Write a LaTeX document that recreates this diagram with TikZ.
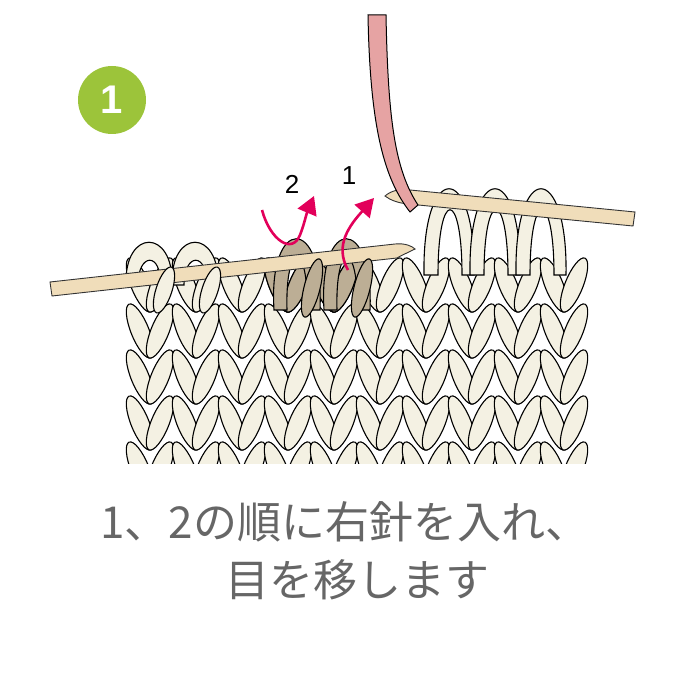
\documentclass[tikz,border=0pt]{standalone}
\usepackage{fontspec}
\usetikzlibrary{arrows.meta}
\newfontfamily\cjk{Noto Sans CJK JP}
\setmainfont{Liberation Sans}
\begin{document}
\begin{tikzpicture}[x=1pt,y=-1pt,
  yarn/.style={fill=cream,draw=black,line width=1.1pt},
  tan/.style={fill=tanc,draw=black,line width=1.1pt},
  needle/.style={fill=needlec,draw=black!80,line width=0.9pt},
  arr/.style={draw=mag,line width=2.6pt,-{Triangle[length=18pt,width=20pt]}}]
\definecolor{cream}{HTML}{F4F1E3}
\definecolor{tanc}{HTML}{BCAE95}
\definecolor{needlec}{HTML}{F0DDBA}
\definecolor{mag}{HTML}{E2005A}
\definecolor{grn}{HTML}{9CC43A}
\definecolor{pinky}{HTML}{E6A3A3}
\useasboundingbox (0,0) rectangle (700,700);
% badge
\node[circle,fill=grn,minimum size=68pt,inner sep=0pt,text=white,font=\bfseries\fontsize{40}{40}\selectfont] (badge) at (112,100) {1};
% fabric
\begin{scope}
\clip (100,240) rectangle (600,463);
\foreach \r in {0,...,4}{
 \foreach \i in {0,...,9}{
  \pgfmathsetmacro\cx{150+46*\i}
  \pgfmathsetmacro\cy{285+46*\r}
  \draw[yarn] (\cx-10,\cy) ellipse [x radius=9, y radius=29, rotate=22];
  \draw[yarn] (\cx+10,\cy) ellipse [x radius=9, y radius=29, rotate=-22];
 }}
\foreach \i in {3,4}{
  \pgfmathsetmacro\cx{150+46*\i}
  \draw[tan] (\cx-10,285) ellipse [x radius=9, y radius=29, rotate=22];
  \draw[tan] (\cx+10,285) ellipse [x radius=9, y radius=29, rotate=-22];
}
\end{scope}
% left needle loops
\foreach \x in {150,196}{
  \draw[yarn] (\x-24,285) .. controls (\x-26,228) and (\x+24,228) .. (\x+22,285) -- (\x+10,285) .. controls (\x+12,252) and (\x-12,252) .. (\x-12,285) -- cycle;
}
\foreach \x in {296,346}{
  \draw[tan] (\x-22,310) .. controls (\x-28,215) and (\x+28,215) .. (\x+24,310) -- (\x+11,310) .. controls (\x+13,240) and (\x-11,240) .. (\x-9,310) -- cycle;
}
% right needle loops
\foreach \x in {450,496,542}{
  \draw[yarn] (\x-26,275) .. controls (\x-28,160) and (\x+26,160) .. (\x+24,275) -- (\x+12,275) .. controls (\x+12,188) and (\x-12,188) .. (\x-12,275) -- cycle;
}
% left needle
\draw[needle] (50,282) -- (395,244) .. controls (405,243) and (412,246) .. (415,249) .. controls (405,254) and (400,256) .. (397,258) -- (52,296) -- cycle;
% right needle
\draw[needle] (385,196) .. controls (392,190) and (400,189) .. (410,190) -- (635,212) -- (633,226) -- (408,204) .. controls (398,203) and (390,200) .. cycle;
% front legs of loops on left needle
\foreach \x in {150,196}{
  \draw[yarn] (\x+14,290) ellipse [x radius=8, y radius=24, rotate=-18];
}
\foreach \x in {296,346}{
  \draw[tan] (\x+16,288) ellipse [x radius=8, y radius=30, rotate=-14];
}
% pink yarn
\draw[draw=black,line width=1pt,fill=pinky] (368,15) -- (386,15) .. controls (388,120) and (395,170) .. (418,205) -- (410,212) .. controls (385,180) and (370,130) .. (368,15) -- cycle;
% arrows
\draw[arr] (348,270) .. controls (334,245) and (350,225) .. (374,198);
\draw[arr] (262,210) .. controls (270,240) and (292,255) .. (300,235) .. controls (304,225) and (306,215) .. (314,196);
% labels
\node[font=\fontsize{26}{26}\selectfont] (l2) at (292,184) {2};
\node[font=\fontsize{26}{26}\selectfont] (l1) at (349,176) {1};
% caption
\node[text=black!60,font=\cjk\fontsize{44}{48}\selectfont] (t1) at (345,522) {1、2の順に右針を入れ、};
\node[text=black!60,font=\cjk\fontsize{44}{48}\selectfont] (t2) at (357,580) {目を移します};
\end{tikzpicture}
\end{document}
